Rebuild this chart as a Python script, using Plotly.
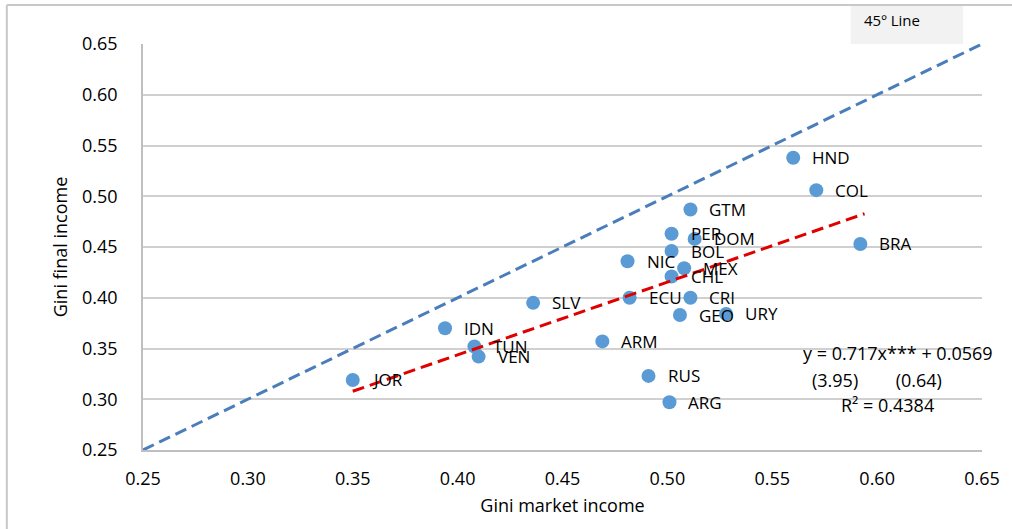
import plotly.graph_objects as go

countries = ["JOR", "IDN", "TUN", "VEN", "SLV", "ARM", "NIC", "ECU", "RUS", "ARG", "PER",
             "BOL", "CHL", "MEX", "GEO", "GTM", "DOM", "CRI", "URY", "HND", "COL", "BRA"]
gini_market = [0.350, 0.394, 0.408, 0.410, 0.436, 0.469, 0.481, 0.482, 0.491, 0.501, 0.502,
               0.502, 0.502, 0.508, 0.506, 0.511, 0.513, 0.511, 0.528, 0.560, 0.571, 0.592]
gini_final = [0.319, 0.370, 0.352, 0.342, 0.395, 0.357, 0.436, 0.400, 0.323, 0.297, 0.463,
              0.446, 0.421, 0.429, 0.383, 0.487, 0.458, 0.400, 0.384, 0.538, 0.506, 0.453]

line45_x = [0.25, 0.65]
trend_slope = 0.717
trend_intercept = 0.0569
trend_x = [0.350, 0.594]
trend_y = [trend_slope * v + trend_intercept for v in trend_x]

ticks = [0.25, 0.30, 0.35, 0.40, 0.45, 0.50, 0.55, 0.60, 0.65]
tick_text = ["%.2f" % t for t in ticks]

FONT = "Open Sans"
BLACK = "#000000"

fig = go.Figure()
fig.add_trace(go.Scatter(
    x=gini_market, y=gini_final, mode="markers",
    marker=dict(size=14, color="#5b9bd5"), showlegend=False, cliponaxis=False))
for cx, cy, name in zip(gini_market, gini_final, countries):
    fig.add_annotation(x=cx, y=cy, xref="x", yref="y", text=name, showarrow=False,
                       xanchor="left", yanchor="middle", xshift=17,
                       font=dict(family=FONT, size=17, color=BLACK))
fig.add_trace(go.Scatter(
    x=line45_x, y=line45_x, mode="lines",
    line=dict(color="#4a7ebb", width=3, dash="12px,6px"), showlegend=False, cliponaxis=False))
fig.add_trace(go.Scatter(
    x=trend_x, y=trend_y, mode="lines",
    line=dict(color="#e00000", width=3, dash="12px,6px"), showlegend=False))

# legend-like box
fig.add_shape(type="rect", xref="paper", yref="paper", x0=0.8436, x1=0.9775, y0=1.0, y1=1.096,
              fillcolor="#f2f2f2", line=dict(width=0), layer="above")
fig.add_annotation(xref="paper", yref="paper", x=0.8566, y=1.059, xanchor="left", yanchor="middle",
                   text="45º Line", showarrow=False,
                   font=dict(family=FONT, size=15, color=BLACK))

fig.add_annotation(xref="x", yref="y", x=0.610, y=0.3456, text="y = 0.717x*** + 0.0569",
                   showarrow=False, font=dict(family=FONT, size=18, color=BLACK))
fig.add_annotation(xref="x", yref="y", x=0.600, y=0.319, text="(3.95)        (0.64)",
                   showarrow=False, font=dict(family=FONT, size=18, color=BLACK))
fig.add_annotation(xref="x", yref="y", x=0.605, y=0.2943, text="R² = 0.4384",
                   showarrow=False, font=dict(family=FONT, size=18, color=BLACK))

# outer frame
fig.add_shape(type="line", xref="paper", yref="paper", x0=-0.1623, x1=-0.1623, y0=-0.3, y1=1.096,
              line=dict(color="#c8c8c8", width=2))
fig.add_shape(type="line", xref="paper", yref="paper", x0=-0.1623, x1=1.2, y0=1.096, y1=1.096,
              line=dict(color="#c8c8c8", width=2))

axis_common = dict(range=[0.25, 0.65], tickvals=ticks, ticktext=tick_text,
                   tickfont=dict(family=FONT, size=18, color=BLACK),
                   zeroline=False, ticks="", linecolor="#bfbfbf", linewidth=1.5,
                   showline=True)
fig.update_xaxes(**axis_common, showgrid=False, ticklabelstandoff=12,
                 title=dict(text="Gini market income", font=dict(family=FONT, size=18, color=BLACK),
                            standoff=10))
fig.update_yaxes(**axis_common, showgrid=True, gridcolor="#d0d0d0", gridwidth=1.5,
                 ticklabelstandoff=20,
                 title=dict(text="Gini final income", font=dict(family=FONT, size=18, color=BLACK),
                            standoff=10))

fig.update_layout(width=1012, height=529, margin=dict(l=143, r=19, t=44, b=79),
                  plot_bgcolor="white", paper_bgcolor="white",
                  font=dict(family=FONT))
fig.write_html("out.html")
